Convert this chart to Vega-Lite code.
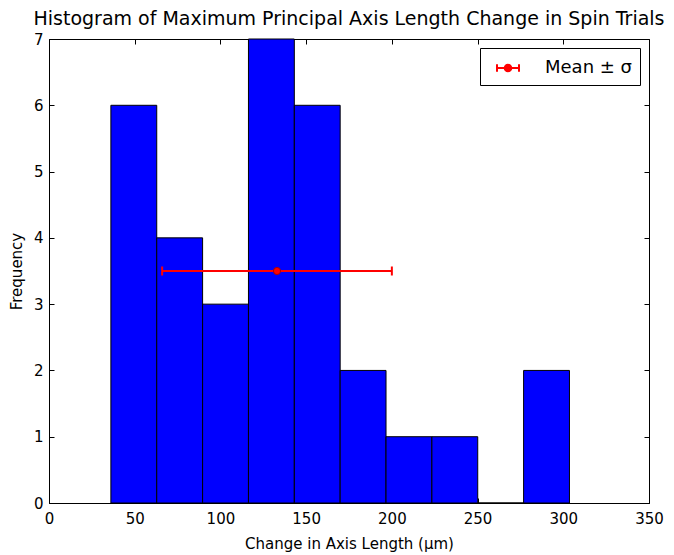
{
  "$schema": "https://vega.github.io/schema/vega-lite/v6.json",
  "width": 600,
  "height": 464,
  "autosize": {"type": "none"},
  "padding": {"left": 49, "top": 39, "right": 25, "bottom": 52},
  "background": "white",
  "config": {
    "font": "DejaVu Sans",
    "view": {"stroke": "black", "strokeWidth": 1},
    "axis": {"grid": false, "domainColor": "black", "tickColor": "black", "labelColor": "black", "titleColor": "black", "labelFontSize": 15, "titleFontSize": 15, "titleFontWeight": "normal", "tickSize": -5, "labelFlush": false, "labelOverlap": false}
  },
  "title": {"text": "Histogram of Maximum Principal Axis Length Change in Spin Trials", "fontSize": 19, "fontWeight": "normal", "color": "black", "offset": 3},
  "datasets": {
    "bins": [
      {"bin_start": 36.1, "bin_end": 62.85, "count": 6},
      {"bin_start": 62.85, "bin_end": 89.6, "count": 4},
      {"bin_start": 89.6, "bin_end": 116.35, "count": 3},
      {"bin_start": 116.35, "bin_end": 143.1, "count": 7},
      {"bin_start": 143.1, "bin_end": 169.85, "count": 6},
      {"bin_start": 169.85, "bin_end": 196.6, "count": 2},
      {"bin_start": 196.6, "bin_end": 223.35, "count": 1},
      {"bin_start": 223.35, "bin_end": 250.1, "count": 1},
      {"bin_start": 250.1, "bin_end": 276.85, "count": 0},
      {"bin_start": 276.85, "bin_end": 303.6, "count": 2}
    ],
    "stats": [
      {"label": "Mean ± σ", "mean": 133, "lo": 66, "hi": 200, "y": 3.5}
    ]
  },
  "layer": [
    {
      "data": {"name": "bins"},
      "mark": {"type": "bar", "fill": "#0000ff", "stroke": "black", "strokeWidth": 1},
      "encoding": {
        "x": {"field": "bin_start", "type": "quantitative", "scale": {"domain": [0, 350], "nice": false, "zero": false},
              "axis": {"orient": "bottom", "values": [0, 50, 100, 150, 200, 250, 300, 350], "title": "Change in Axis Length (μm)", "labelPadding": 13, "titlePadding": 10}},
        "x2": {"field": "bin_end"},
        "y": {"field": "count", "type": "quantitative", "scale": {"domain": [0, 7], "nice": false},
              "axis": {"orient": "left", "values": [0, 1, 2, 3, 4, 5, 6, 7], "title": "Frequency", "labelPadding": 11, "titlePadding": 9}},
        "y2": {"datum": 0}
      }
    },
    {
      "data": {"name": "stats"},
      "encoding": {
        "y": {"field": "y", "type": "quantitative", "axis": {"orient": "right", "values": [0, 1, 2, 3, 4, 5, 6, 7], "labels": false, "title": null, "domain": false}}
      },
      "layer": [
        {
          "mark": {"type": "rule", "strokeWidth": 2},
          "encoding": {
            "x": {"field": "lo", "type": "quantitative", "axis": {"orient": "top", "values": [0, 50, 100, 150, 200, 250, 300, 350], "labels": false, "title": null, "domain": false}},
            "x2": {"field": "hi"},
            "color": {"field": "label", "type": "nominal", "scale": {"domain": ["Mean ± σ"], "range": ["#ff0000"]},
                      "legend": {"title": null, "orient": "top-right", "offset": 9, "strokeColor": "black", "fillColor": "white", "padding": 8, "cornerRadius": 0,
                                 "labelFontSize": 18, "labelColor": "black", "labelOffset": 25,
                                 "symbolType": "M-1,0H1M-1,-0.35V0.35M1,-0.35V0.35M0.3,0A0.3,0.3 0 1,1 -0.3,0A0.3,0.3 0 1,1 0.3,0Z",
                                 "symbolSize": 484, "symbolStrokeWidth": 2, "symbolFillColor": "#ff0000", "symbolStrokeColor": "#ff0000", "symbolOffset": 8}}
          }
        },
        {
          "mark": {"type": "point", "shape": "M0,-1V1", "size": 81, "stroke": "#ff0000", "strokeWidth": 2, "opacity": 1},
          "encoding": {"x": {"field": "lo", "type": "quantitative", "axis": {"orient": "top", "values": [0, 50, 100, 150, 200, 250, 300, 350], "labels": false, "title": null, "domain": false}}}
        },
        {
          "mark": {"type": "point", "shape": "M0,-1V1", "size": 81, "stroke": "#ff0000", "strokeWidth": 2, "opacity": 1},
          "encoding": {"x": {"field": "hi", "type": "quantitative", "axis": {"orient": "top", "values": [0, 50, 100, 150, 200, 250, 300, 350], "labels": false, "title": null, "domain": false}}}
        },
        {
          "mark": {"type": "point", "shape": "circle", "size": 50, "filled": true, "fill": "#ff0000", "stroke": "#aa0000", "strokeWidth": 1, "opacity": 1},
          "encoding": {"x": {"field": "mean", "type": "quantitative", "axis": {"orient": "top", "values": [0, 50, 100, 150, 200, 250, 300, 350], "labels": false, "title": null, "domain": false}}}
        }
      ]
    }
  ],
  "resolve": {"axis": {"x": "independent", "y": "independent"}}
}
